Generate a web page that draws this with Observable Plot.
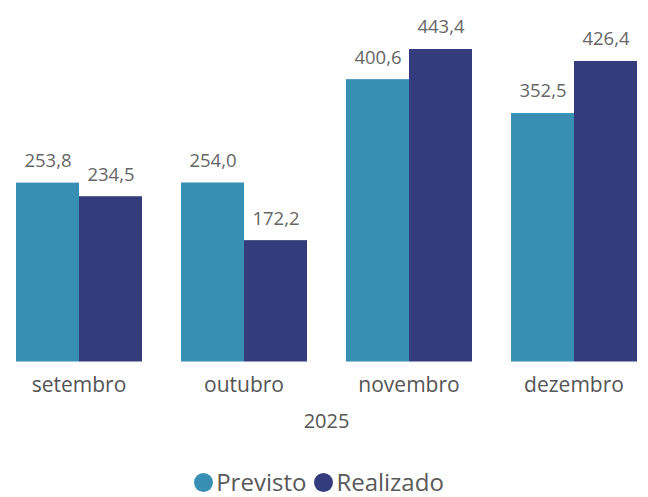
<!DOCTYPE html>
<html><head><meta charset="utf-8">
<script src="https://cdn.jsdelivr.net/npm/d3@7"></script>
<script src="https://cdn.jsdelivr.net/npm/@observablehq/plot@0.6"></script>
<style>
body{margin:0;background:#fff;font-family:"Open Sans",sans-serif;overflow:hidden;}
#legend{display:flex;justify-content:center;align-items:center;gap:8px;font-size:24px;line-height:28px;color:#595959;margin-top:16px;padding-right:10px;}
#legend span.item{display:flex;align-items:center;gap:3px;}
#legend span.dot{width:19px;height:19px;border-radius:50%;display:inline-block;}
</style></head><body>
<div id="chart"></div>
<div id="legend"></div>
<script>
const months = ["setembro","outubro","novembro","dezembro"];
const series = ["Previsto","Realizado"];
const previsto = [253.8, 254.0, 400.6, 352.5];
const realizado = [234.5, 172.2, 443.4, 426.4];
const yearLabel = "2025";
const colors = ["#3790b4","#343c7e"];

const data = [];
months.forEach((m,i)=>{
  data.push({month:m, serie:series[0], value:previsto[i]});
  data.push({month:m, serie:series[1], value:realizado[i]});
});
const fmt = v => d3.format(".1f")(v).replace(".", ",");

const chart = Plot.plot({
  width: 648, height: 452,
  marginLeft: 15, marginRight: 10, marginTop: 49, marginBottom: 90.5,
  style:{fontFamily:"'Open Sans', sans-serif", background:"#fff"},
  fx:{domain: months, paddingInner:0.23, paddingOuter:0, label:null},
  x:{domain: series, padding:0, axis:null},
  y:{domain:[0,443.4], axis:null},
  color:{domain: series, range: colors},
  marks:[
    Plot.barY(data,{fx:"month", x:"serie", y:"value", fill:"serie"}),
    Plot.text(data,{fx:"month", x:"serie", y:"value", text:d=>fmt(d.value), dy:-22, fontSize:18.5, fill:"#666"}),
    Plot.axisFx({anchor:"bottom", tickSize:0, tickPadding:15, fontSize:21, color:"#555", label:yearLabel, labelAnchor:"center", labelOffset:66})
  ]
});
document.getElementById("chart").appendChild(chart);
chart.querySelectorAll("[aria-label='fx-axis label'] text, g[aria-label='fx-axis label']").forEach(e=>{e.setAttribute("font-size","20");e.setAttribute("fill","#555");});

const lg = document.getElementById("legend");
series.forEach((s,i)=>{
  const it = document.createElement("span"); it.className="item";
  const d = document.createElement("span"); d.className="dot"; d.style.background=colors[i];
  const t = document.createElement("span"); t.textContent=s;
  it.appendChild(d); it.appendChild(t); lg.appendChild(it);
});
</script></body></html>
